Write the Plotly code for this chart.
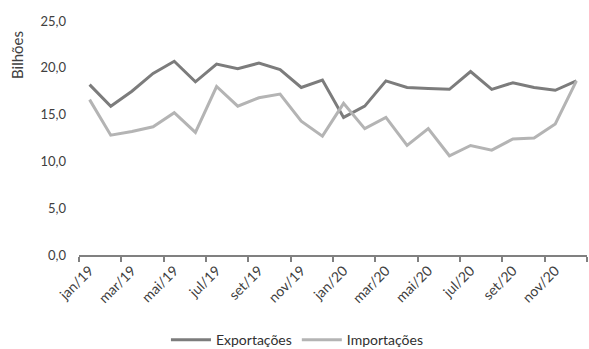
import plotly.graph_objects as go

months = ["jan/19","fev/19","mar/19","abr/19","mai/19","jun/19","jul/19","ago/19","set/19","out/19","nov/19","dez/19",
          "jan/20","fev/20","mar/20","abr/20","mai/20","jun/20","jul/20","ago/20","set/20","out/20","nov/20","dez/20"]
exportacoes = [18.2,15.9,17.5,19.4,20.7,18.5,20.4,19.9,20.5,19.8,17.9,18.7,
               14.7,15.9,18.6,17.9,17.8,17.7,19.6,17.7,18.4,17.9,17.6,18.6]
importacoes = [16.6,12.8,13.2,13.7,15.2,13.1,18.0,15.9,16.8,17.2,14.3,12.7,
               16.2,13.5,14.7,11.7,13.5,10.6,11.7,11.2,12.4,12.5,14.0,18.6]
y_ticks = [0,5,10,15,20,25]
y_text = ["0,0","5,0","10,0","15,0","20,0","25,0"]

font = "Lato"
fig = go.Figure()
fig.add_trace(go.Scatter(x=months, y=exportacoes, mode="lines", name="Exportações",
                         line=dict(color="#7c7c7c", width=3)))
fig.add_trace(go.Scatter(x=months, y=importacoes, mode="lines", name="Importações",
                         line=dict(color="#b4b4b4", width=3)))

fig.update_layout(
    width=589, height=349,
    margin=dict(l=79, r=2, t=21, b=94),
    paper_bgcolor="white", plot_bgcolor="white",
    font=dict(family=font, size=12, color="#404040"),
    showlegend=True,
    legend=dict(orientation="h", x=0.505, xanchor="center", xref="container",
                y=0.025, yanchor="middle", yref="container",
                font=dict(size=14, color="#303030"), itemwidth=40, tracegroupgap=0),
    xaxis=dict(type="category", range=[-0.5, 23.5], tickson="boundaries", tickmode="linear", tick0=0, dtick=2,
               ticks="outside", ticklen=5, tickcolor="#808080", tickwidth=2,
               showline=True, linecolor="#808080", linewidth=2,
               showgrid=False, zeroline=False, tickangle=-45,
               tickfont=dict(size=14, color="#404040")),
    yaxis=dict(range=[0,25], tickmode="array", tickvals=y_ticks, ticktext=y_text,
               showgrid=False, zeroline=False, showline=False, ticks="",
               ticklabelstandoff=12, tickfont=dict(size=13, color="#404040")),
    annotations=[dict(text="Bilhões", textangle=-90, x=0, xref="paper", y=0, yref="paper",
                      showarrow=False, font=dict(size=15, color="#404040"))],
)
pw = 589 - 79 - 2
ph = 349 - 21 - 94
fig.layout.annotations[0].x = (17 - 79) / pw
fig.layout.annotations[0].y = (255 - 55) / ph
fig.layout.annotations[0].xanchor = "center"
fig.layout.annotations[0].yanchor = "middle"
fig.write_html("out.html")
